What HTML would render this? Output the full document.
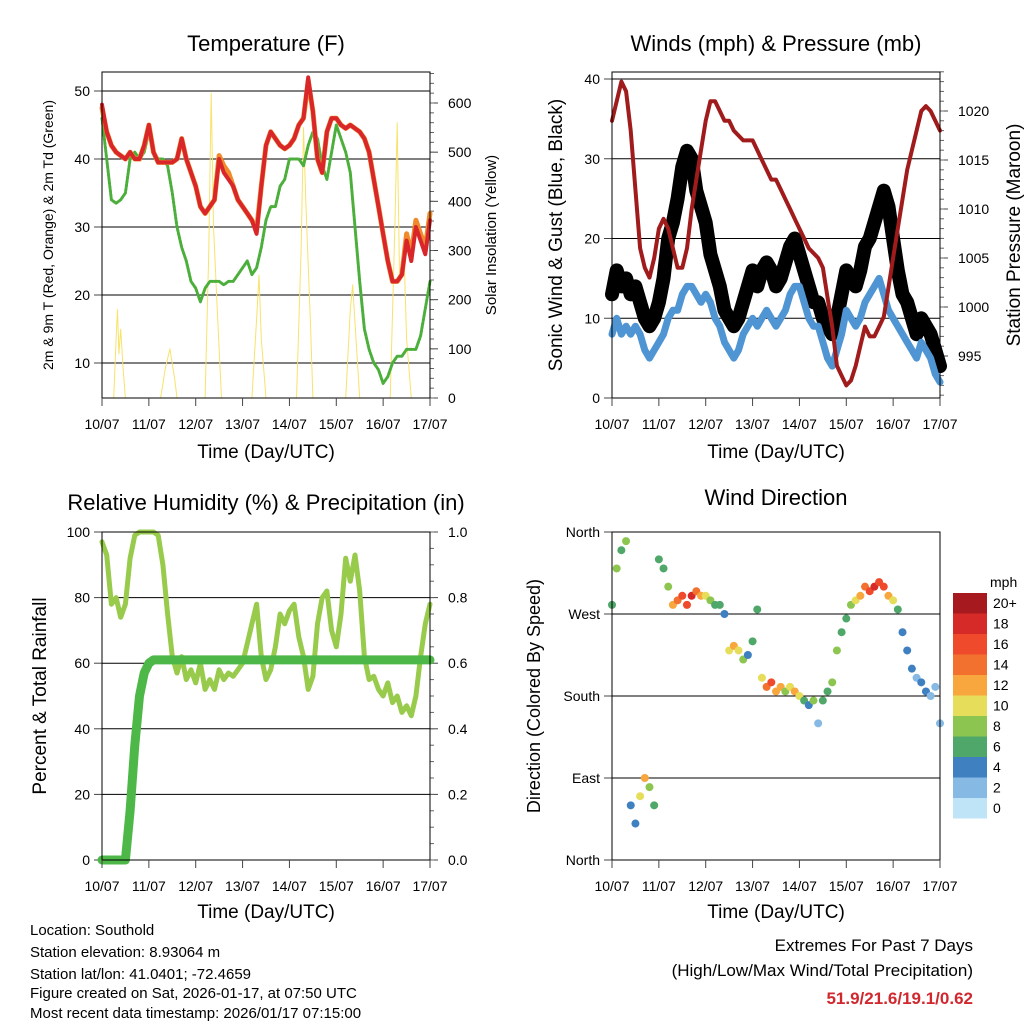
<!DOCTYPE html>
<html><head><meta charset="utf-8">
<style>
html,body{margin:0;padding:0;background:#fff;}
body{width:1024px;height:1024px;overflow:hidden;font-family:"Liberation Sans",sans-serif;}
svg text{font-family:"Liberation Sans",sans-serif;fill:#000;}
</style></head>
<body>
<svg id="chart" width="1024" height="1024" viewBox="0 0 1024 1024" xmlns="http://www.w3.org/2000/svg">
<g id="g"></g>
<g font-size="15">
<text x="30" y="935">Location: Southold</text>
<text x="30" y="957">Station elevation: 8.93064 m</text>
<text x="30" y="979">Station lat/lon: 41.0401; -72.4659</text>
<text x="30" y="998">Figure created on Sat, 2026-01-17, at 07:50 UTC</text>
<text x="30" y="1018">Most recent data timestamp: 2026/01/17 07:15:00</text>
</g>
<g font-size="17" text-anchor="end">
<text x="973" y="951">Extremes For Past 7 Days</text>
<text x="973" y="976">(High/Low/Max Wind/Total Precipitation)</text>
<text x="973" y="1004" font-weight="bold" style="fill:#d0282e">51.9/21.6/19.1/0.62</text>
</g>
</svg>
<script>
const tickDays=["10/07","11/07","12/07","13/07","14/07","15/07","16/07","17/07"];
// values sampled every 0.1 day (2.4 h)
const tempRed=[48,44,42,41,40.5,40,41,40,40,42,45,41,39.5,39.5,39.5,39.5,40,43,40,38,36,33,32,33,34,40,38,37,36,34,33,32,31,29,36,42,44,43,42,41.5,42,43,45,46,52,47,40,38,44,46,46,45,44.5,45,44.5,44,43,41,37,33,29,25,22,22,23,28,25,30,28,26,31];
const tempOrange=[47.5,44,42,41,40.5,40,41,40,40,42,45,41,39.5,39.5,39.5,39.5,40,43,40,38,36,33,32,33,34,40.5,39,38,36,34,33,32,31,29.5,36,42,44,43,42,41.5,42,43,45,46,51.5,47,40,38,44,46,46,45,44.5,45,44.5,44,43,41,37,33,29,25,22,22,23,29,26,31,29,27,32];
const dewGreen=[46,40,34,33.5,34,35,40,41,40,41,44,41,40,40,39,35,30,27,25,22,21,19,21,22,22,22,21.5,22,22,23,24,25,23,24,27,31,33,33,36,37,40,40,40,39,42,44,43,39,37,41,45,43,41,38,30,22,15,12,10,9,7,8,10,11,11,12,12,12,14,18,22];
const solarT=[0,0.25,0.3,0.33,0.36,0.4,0.45,0.5,1.25,1.35,1.45,1.55,1.6,2.2,2.28,2.33,2.38,2.45,2.55,3.2,3.3,3.35,3.4,3.5,4.15,4.25,4.3,4.35,4.45,4.5,5.2,5.3,5.35,5.42,5.5,6.15,6.25,6.3,6.35,6.45,6.5,6.6,7];
const solarV=[0,0,120,180,90,140,60,0,0,60,100,40,0,0,300,620,350,200,0,0,160,250,120,0,0,300,550,400,150,0,0,180,230,120,0,0,350,560,250,280,120,0,0];
const pressure=[1019,1021,1023,1022,1018,1012,1006,1004,1003,1005,1008,1009,1008,1006,1004,1004,1006,1010,1013,1016,1019,1021,1021,1020,1019,1019,1018,1017.5,1017,1017,1017,1016,1015,1014,1013,1013,1012,1011,1010,1009,1008,1007,1006,1005.5,1005,1004,1001,998,994,993,992,992.5,994,996,998,997,997,998,999,1002,1005,1008,1011,1014,1016,1018,1020,1020.5,1020,1019,1018];
const windSpeed=[8,10,8,9,8,9,8,6,5,6,7,8,10,11,11,13,14,14,13,12,13,12,10,9,7,6,5,6,8,9,10,9,10,11,10,9,10,11,13,14,14,12,10,9,9,7,5,4,6,8,11,10,9,10,12,13,14,15,13,11,10,9,8,7,6,5,7,6,5,3,2];
const windGust=[13,16,14,15,13,14,12,10,9,10,12,15,20,22,25,29,31,30,26,24,22,18,16,14,11,10,9,10,12,14,16,14,16,17,16,14,15,17,19,20,18,16,14,12,12,10,9,8,10,13,16,15,14,16,19,20,22,24,26,24,20,16,13,12,10,8,10,9,8,6,4];
const rh=[97,93,78,80,74,78,92,99,100,100,100,100,99,90,75,62,57,62,55,58,54,60,52,55,52,58,55,57,56,58,60,66,72,78,62,55,58,65,75,72,76,78,68,62,52,56,72,80,82,70,65,75,92,85,93,82,62,55,56,52,50,54,48,50,45,47,44,50,62,72,78];
const precip=[0,0,0,0,0,0,0.15,0.35,0.5,0.57,0.6,0.61,0.61,0.61,0.61,0.61,0.61,0.61,0.61,0.61,0.61,0.61,0.61,0.61,0.61,0.61,0.61,0.61,0.61,0.61,0.61,0.61,0.61,0.61,0.61,0.61,0.61,0.61,0.61,0.61,0.61,0.61,0.61,0.61,0.61,0.61,0.61,0.61,0.61,0.61,0.61,0.61,0.61,0.61,0.61,0.61,0.61,0.61,0.61,0.61,0.61,0.61,0.61,0.61,0.61,0.61,0.61,0.61,0.61,0.61,0.61];
const windDir=[280,320,340,350,60,40,70,90,80,60,330,320,300,280,285,290,280,290,295,290,290,285,280,280,270,230,235,230,220,225,240,275,200,190,195,185,190,185,190,185,180,175,170,175,150,175,185,195,230,250,265,280,285,290,300,295,300,305,300,290,285,275,250,230,210,200,195,185,180,190,150];
const dirSpeed=[6,8,6,7,4,4,10,12,8,5,5,6,8,12,14,16,16,18,14,12,10,8,6,6,4,10,12,10,8,4,6,5,10,14,16,12,12,8,10,12,10,6,4,8,2,6,6,8,8,6,6,8,10,12,14,16,18,16,16,12,10,6,4,3,3,2,3,4,2,2,2];
const cbLabels=["20+","18","16","14","12","10","8","6","4","2","0"];
const cbColors=["#a5191f","#d62a28","#ee4a2b","#f2712f","#f8a73e","#e6de5a","#8cc650","#4fa86a","#3f80c0","#86b9e4","#bfe4f7"];

const NS="http://www.w3.org/2000/svg";
const root=document.getElementById('g');
function el(tag,attrs,parent,txt){const e=document.createElementNS(NS,tag);for(const k in attrs)e.setAttribute(k,attrs[k]);if(txt!==undefined)e.textContent=txt;(parent||root).appendChild(e);return e;}
function lin(d0,d1,r0,r1){return v=>r0+(v-d0)*(r1-r0)/(d1-d0);}
const tAt=i=>i*0.1;

function panel(name,x0,y0,x1,y1){
  const g=el('g',{});
  
  
  const X=lin(0,7,x0,x1);
  return {g,X,x0,y0,x1,y1};
}
function frame(p){
  const r=el('rect',{x:p.x0,y:p.y0,width:p.x1-p.x0,height:p.y1-p.y0,fill:'none',stroke:'#000','stroke-width':1},p.g);
  
  
}
function xAxis(p,titleY){
  tickDays.forEach((d,i)=>{
    const x=p.X(i);
    el('line',{x1:x,x2:x,y1:p.y1,y2:p.y1+8,stroke:'#444'},p.g);
    const t=el('text',{x:x,y:p.y1+31,'font-size':14,'text-anchor':'middle'},p.g,d);
    
    
  });
  const t=el('text',{x:(p.x0+p.x1)/2,y:titleY,'font-size':19,'text-anchor':'middle'},p.g,'Time (Day/UTC)');
  
  
}
function yTicks(p,Y,vals,labels,side,grid){
  vals.forEach((v,i)=>{
    const y=Y(v);
    if(grid) el('line',{x1:p.x0,x2:p.x1,y1:y,y2:y,stroke:'#000','stroke-width':1},p.g);
    const xx=side==='l'?p.x0:p.x1;
    el('line',{x1:xx,x2:side==='l'?xx-8:xx+8,y1:y,y2:y,stroke:'#444'},p.g);
    const t=el('text',{x:side==='l'?p.x0-12:p.x1+18,y:y+5,'font-size':14,'text-anchor':side==='l'?'end':'start'},p.g,labels[i]);
    
    
  });
}
function minorTicks(p,Y,v0,v1,step){
  for(let v=v0;v<=v1+1e-9;v+=step){
    const y=Y(v);
    if(y<p.y0-0.5||y>p.y1+0.5)continue;
    el('line',{x1:p.x1,x2:p.x1+4,y1:y,y2:y,stroke:'#666'},p.g);
  }
}
function title(p,txt,y,size){
  const t=el('text',{x:(p.x0+p.x1)/2,y:y,'font-size':size||22,'text-anchor':'middle'},p.g,txt);
  
  
}
function vtitle(p,txt,x,size,name){
  const cy=(p.y0+p.y1)/2;
  const t=el('text',{x:x,y:cy,'font-size':size,'text-anchor':'middle',transform:`rotate(-90 ${x} ${cy})`},p.g,txt);
  
  
}
function line(p,xs,ys,color,w,name){
  const pts=xs.map((x,i)=>x.toFixed(1)+','+ys[i].toFixed(1)).join(' ');
  const l=el('polyline',{points:pts,fill:'none',stroke:color,'stroke-width':w,'stroke-linejoin':'round','stroke-linecap':'round'},p.g);
  
  
  return l;
}

// ---------- Temperature ----------
(function(){
  const p=panel('temperature-panel',102,72,430,398);
  const Y=lin(50,10,91,363), Y2=lin(0,600,398,103);
  title(p,'Temperature (F)',51);
  yTicks(p,Y,[10,20,30,40,50],['10','20','30','40','50'],'l',true);
  yTicks(p,Y2,[0,100,200,300,400,500,600],['0','100','200','300','400','500','600'],'r',false);
  minorTicks(p,Y2,0,660,20);
  line(p,solarT.map(p.X),solarV.map(Y2),'#f7e36a',1,'solar-insolation-line');
  const xs=tempRed.map((v,i)=>p.X(tAt(i)));
  line(p,xs,dewGreen.map(Y),'#4caf3c',3,'dewpoint-line').setAttribute('stroke-dasharray','2.5 1.5');
  line(p,xs,tempOrange.map(Y),'#f08a2a',5,'temp-9m-line');
  line(p,xs,tempRed.map(Y),'#d8262a',4,'temp-2m-line');
  frame(p);
  xAxis(p,458);
  vtitle(p,'2m & 9m T (Red, Orange) & 2m Td (Green)',53,14,'y-axis-title');
  vtitle(p,'Solar Insolation (Yellow)',496,15,'y2-axis-title');
})();

// ---------- Winds ----------
(function(){
  const p=panel('winds-panel',612,72,940,398);
  const Y=lin(0,40,398,79), Y2=lin(995,1020,356,111);
  title(p,'Winds (mph) & Pressure (mb)',51);
  yTicks(p,Y,[0,10,20,30,40],['0','10','20','30','40'],'l',true);
  yTicks(p,Y2,[995,1000,1005,1010,1015,1020],['995','1000','1005','1010','1015','1020'],'r',false);
  minorTicks(p,Y2,990,1024,1);
  const xs=windGust.map((v,i)=>p.X(tAt(i)));
  line(p,xs,windGust.map(Y),'#000',14,'gust-band');
  windGust.forEach((v,i)=>{
    const c=el('circle',{cx:xs[i],cy:Y(v),r:3,fill:'#000'},p.g);
    
    
  });
  line(p,xs,windSpeed.map(Y),'#4f95d3',7,'wind-speed-line');
  line(p,xs,pressure.map(v=>Y2(v)),'#a01c1c',4,'pressure-line');
  frame(p);
  xAxis(p,458);
  vtitle(p,'Sonic Wind & Gust (Blue, Black)',562,19,'y-axis-title');
  vtitle(p,'Station Pressure (Maroon)',1020,19,'y2-axis-title');
})();

// ---------- RH ----------
(function(){
  const p=panel('humidity-panel',102,532,430,860);
  const Y=lin(0,100,860,532), Y2=lin(0,1,860,532);
  title(p,'Relative Humidity (%) & Precipitation (in)',510);
  yTicks(p,Y,[0,20,40,60,80,100],['0','20','40','60','80','100'],'l',true);
  yTicks(p,Y2,[0,0.2,0.4,0.6,0.8,1.0],['0.0','0.2','0.4','0.6','0.8','1.0'],'r',false);
  minorTicks(p,Y2,0,1,0.05);
  const xs=rh.map((v,i)=>p.X(tAt(i)));
  line(p,xs,rh.map(Y),'#98cb4c',5,'humidity-line');
  line(p,xs,precip.map(Y2),'#4db848',9,'precip-line');
  frame(p);
  xAxis(p,918);
  vtitle(p,'Percent & Total Rainfall',46,19,'y-axis-title');
})();

// ---------- Wind direction ----------
(function(){
  const p=panel('wind-direction-panel',612,532,940,860);
  const Y=lin(0,360,860,532);
  title(p,'Wind Direction',505);
  yTicks(p,Y,[0,90,180,270,360],['North','East','South','West','North'],'l',true);
  const col=s=>cbColors[10-Math.max(0,Math.min(10,Math.round(s/2)))];
  windDir.forEach((d,i)=>{
    const c=el('circle',{cx:p.X(tAt(i)),cy:Y(d),r:4,fill:col(dirSpeed[i])},p.g);
    
    
  });
  frame(p);
  xAxis(p,918);
  vtitle(p,'Direction (Colored By Speed)',540,18,'y-axis-title');
  const cb=el('g',{},p.g);
  
  
  el('text',{x:990,y:587,'font-size':14},cb,'mph');
  cbColors.forEach((c,i)=>{
    const y=593+i*20.5;
    const r=el('rect',{x:953,y:y,width:34,height:20.5,fill:c},cb);
    
    
    el('text',{x:993,y:y+15,'font-size':14},cb,cbLabels[i]);
  });
})();
</script>
</body></html>
